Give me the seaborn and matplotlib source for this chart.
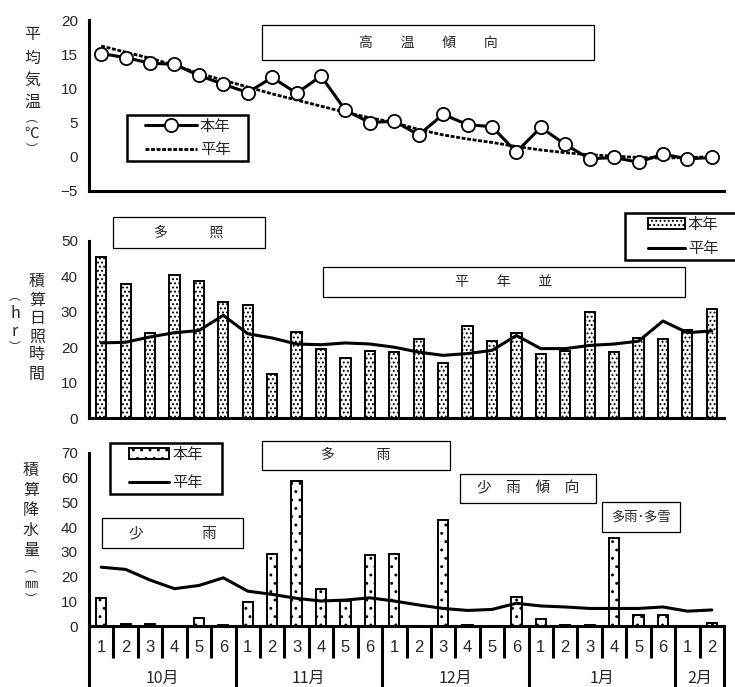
import matplotlib
matplotlib.use("Agg")
import matplotlib.pyplot as plt
import numpy as np
import pandas as pd
import seaborn as sns
from matplotlib.patches import Rectangle

# half-month (半旬) periods, Oct 1 .. Feb 2
months = ["10月", "11月", "12月", "1月", "2月"]
periods_per_month = [6, 6, 6, 6, 2]
period_labels = [str(i) for n in periods_per_month for i in range(1, n + 1)]

temp_this = [15.1, 14.5, 13.7, 13.5, 11.9, 10.6, 9.4, 11.6, 9.3, 11.8, 6.8, 5.0, 5.2,
             3.2, 6.2, 4.7, 4.4, 0.7, 4.3, 1.8, -0.3, -0.1, -0.8, 0.4, -0.3, -0.1]
temp_normal = [16.2, 15.3, 14.4, 13.4, 12.2, 11.2, 10.2, 9.2, 8.3, 7.4, 6.5, 5.7, 5.0,
               4.0, 3.2, 2.6, 2.1, 1.5, 1.0, 0.6, 0.3, 0.1, -0.1, -0.2, -0.1, 0.0]
sun_this = [45.4, 37.8, 23.9, 40.3, 38.7, 32.9, 32.0, 12.5, 24.2, 19.4, 17.0, 18.8, 18.6,
            22.4, 15.5, 26.1, 21.7, 23.9, 18.2, 18.8, 30.0, 18.6, 22.6, 22.4, 25.0, 30.9]
sun_normal = [21.2, 21.4, 22.9, 24.1, 24.7, 29.0, 23.8, 22.6, 20.9, 20.7, 21.2, 20.9, 20.0,
              18.6, 17.7, 18.2, 19.1, 23.3, 19.6, 19.6, 20.5, 20.9, 21.7, 27.4, 24.1, 24.6]
rain_this = [11.2, 1.0, 1.0, 0.0, 3.4, 0.3, 9.8, 29.3, 58.8, 14.8, 10.1, 28.7, 29.3,
             0.0, 42.8, 0.3, 0.0, 11.9, 2.7, 0.3, 0.3, 35.7, 4.3, 4.3, 0.0, 1.2]
rain_normal = [23.8, 22.9, 18.6, 15.1, 16.4, 19.5, 14.1, 12.8, 11.2, 10.1, 10.5, 11.4, 10.1,
               8.5, 7.1, 6.3, 6.7, 9.2, 8.1, 7.7, 7.1, 7.1, 7.1, 7.7, 6.0, 6.5]

df = pd.DataFrame({
    "pos": np.arange(len(period_labels)),
    "temp_this": temp_this, "temp_normal": temp_normal,
    "sun_this": sun_this, "sun_normal": sun_normal,
    "rain_this": rain_this, "rain_normal": rain_normal,
})
n = len(df)
bounds = np.arange(n) + 0.5

sns.set_style("white")
plt.rcParams["font.family"] = ["Noto Sans CJK JP", "DejaVu Sans"]
plt.rcParams["hatch.linewidth"] = 0.9
plt.rcParams["hatch.color"] = "black"
NUM_FONT = ["Liberation Sans", "Noto Sans CJK JP"]

W, H = 735, 687
fig = plt.figure(figsize=(W / 100, H / 100), dpi=100)
ax_t = fig.add_axes([89 / W, 1 - 191 / H, 635 / W, 171 / H])
ax_s = fig.add_axes([89 / W, 1 - 418 / H, 635 / W, 177 / H])
ax_r = fig.add_axes([89 / W, 1 - 626 / H, 635 / W, 173 / H])


def style_axis(ax, ylim, yticks):
    ax.set_xlim(-0.5, n - 0.5)
    ax.set_ylim(*ylim)
    ax.set_yticks(yticks)
    ax.set_xticks(np.append(bounds, n - 0.5))
    ax.set_xticklabels([])
    for side in ("top", "right"):
        ax.spines[side].set_visible(False)
    for side in ("left", "bottom"):
        ax.spines[side].set_linewidth(2.2)
        ax.spines[side].set_color("black")
    ax.tick_params(axis="both", which="major", direction="in", length=4, width=2, color="black")
    ax.tick_params(axis="y", pad=8, labelsize=11)
    for lab in ax.get_yticklabels():
        lab.set_family(NUM_FONT)
    ax.set_xlabel("")
    ax.set_ylabel("")


def px_box(ax, left, top, right, bottom):
    """pixel box -> axes fraction (x0, y0, w, h)"""
    inv = ax.transAxes.inverted()
    (x0, y0), (x1, y1) = inv.transform([(left, H - bottom), (right, H - top)])
    return x0, y0, x1 - x0, y1 - y0


def label_box(ax, left, top, right, bottom, text, size=10):
    x0, y0, w, h = px_box(ax, left, top, right, bottom)
    ax.add_patch(Rectangle((x0, y0), w, h, transform=ax.transAxes, facecolor="white",
                           edgecolor="black", lw=0.9, clip_on=False, zorder=5))
    ax.text(x0 + w / 2, y0 + h / 2, text, transform=ax.transAxes, ha="center",
            va="center", fontsize=size, zorder=6)


def vertical_label(x_px, y_px, chars, sizes=None):
    if sizes is None:
        sizes = [11.5] * len(chars)
    for ch, y, s in zip(chars, y_px, sizes):
        fig.text(x_px / W, 1 - y / H, ch, ha="center", va="center", fontsize=s,
                 family=["Noto Sans CJK JP", "DejaVu Sans"])


def frame_legend(ax, left, top, right, bottom, handlelength, labelspacing, loc="center",
                 anchor_px=None):
    handles, labels = ax.get_legend_handles_labels()
    order = [labels.index("本年"), labels.index("平年")]
    x0, y0, w, h = px_box(ax, left, top, right, bottom)
    ax.add_patch(Rectangle((x0, y0), w, h, transform=ax.transAxes, facecolor="white",
                           edgecolor="black", lw=1.8, clip_on=False, zorder=6))
    if anchor_px is None:
        anchor = (x0 + w / 2, y0 + h / 2)
    else:
        anchor = ax.transAxes.inverted().transform((anchor_px[0], H - anchor_px[1]))
    leg = ax.legend([handles[i] for i in order], [labels[i] for i in order],
                    loc=loc, bbox_to_anchor=tuple(anchor), borderaxespad=0,
                    frameon=False, fontsize=11, handlelength=handlelength,
                    handletextpad=0.2, labelspacing=labelspacing, borderpad=0)
    leg.set_zorder(7)


# --- mean temperature
sns.lineplot(data=df, x="pos", y="temp_normal", ax=ax_t, color="black", lw=2.0,
             linestyle=(0, (1.4, 0.6)), label="平年", zorder=2)
sns.lineplot(data=df, x="pos", y="temp_this", ax=ax_t, color="black", lw=2.2,
             marker="o", markersize=9.5, markerfacecolor="white", markeredgecolor="black",
             markeredgewidth=1.3, label="本年", zorder=3)
style_axis(ax_t, (-5, 20), np.arange(-5, 21, 5))
ax_t.set_yticklabels(["−5", "0", "5", "10", "15", "20"], family=NUM_FONT)
frame_legend(ax_t, 127, 115, 248, 161, 3.4, 0.45)
label_box(ax_t, 262, 25, 594, 60, "高　　温　　傾　　向")

# --- sunshine hours
sns.barplot(data=df, x="pos", y="sun_this", ax=ax_s, color="white", edgecolor="black",
            linewidth=1.4, width=0.42, saturation=1, label="本年", zorder=2)
for p in ax_s.patches:
    p.set_hatch("....")
sns.lineplot(data=df, x="pos", y="sun_normal", ax=ax_s, color="black", lw=2.2,
             label="平年", zorder=3)
style_axis(ax_s, (0, 50), np.arange(0, 51, 10))
frame_legend(ax_s, 625, 213, 760, 260, 2.4, 0.45, loc="center left", anchor_px=(648, 236.5))
label_box(ax_s, 113, 217, 265, 248, "多　　　照")
label_box(ax_s, 323, 267, 685, 297, "平　　年　　並")

# --- precipitation
sns.barplot(data=df, x="pos", y="rain_this", ax=ax_r, color="white", edgecolor="black",
            linewidth=1.4, width=0.42, saturation=1, label="本年", zorder=2)
for p in ax_r.patches:
    p.set_hatch("..")
sns.lineplot(data=df, x="pos", y="rain_normal", ax=ax_r, color="black", lw=2.2,
             label="平年", zorder=3)
style_axis(ax_r, (0, 70), np.arange(0, 71, 10))
frame_legend(ax_r, 110, 443, 222, 494, 2.6, 0.7)
label_box(ax_r, 262, 441, 450, 470, "多　　　雨")
label_box(ax_r, 460, 474, 596, 503, "少　雨　傾　向", size=10.5)
label_box(ax_r, 602, 502, 680, 532, "多雨･多雪", size=9.5)
label_box(ax_r, 102, 518, 243, 548, "少　　　　雨", size=10.5)

# category table under the precipitation axis
xt = ax_r.get_xaxis_transform()
month_edges = np.concatenate([[0], np.cumsum(periods_per_month)]) - 0.5
inner = [b for b in bounds if b not in month_edges]
ax_r.vlines(inner, -0.185, 0, transform=xt, color="black", lw=2.2, clip_on=False)
ax_r.vlines(month_edges, -0.36, 0, transform=xt, color="black", lw=2.2, clip_on=False)
ax_r.set_xticks(np.arange(n), labels=period_labels, minor=True)
ax_r.tick_params(axis="x", which="minor", length=0, pad=10, labelsize=12)
for lab in ax_r.get_xticklabels(minor=True):
    lab.set_family(NUM_FONT)
for m, a, b in zip(months, month_edges[:-1], month_edges[1:]):
    ax_r.text((a + b) / 2, -0.305, m, transform=xt, ha="center", va="center", fontsize=11.5)

# stacked vertical axis titles
vertical_label(32, [35, 58, 80, 102, 118, 134, 150], "平均気温︵℃︶",
               [11.5, 11.5, 11.5, 11.5, 8.5, 10.5, 8.5])
vertical_label(37, [281, 300, 318, 337, 355, 374], "積算日照時間")
vertical_label(15, [296, 313, 331, 348], "︵hr︶", [8.5, 11.5, 11.5, 8.5])
vertical_label(31, [470, 490, 510, 530, 550, 568, 584, 600], "積算降水量︵㎜︶",
               [11.5, 11.5, 11.5, 11.5, 11.5, 8.5, 9.5, 8.5])

fig.savefig("out.png", dpi=100)
